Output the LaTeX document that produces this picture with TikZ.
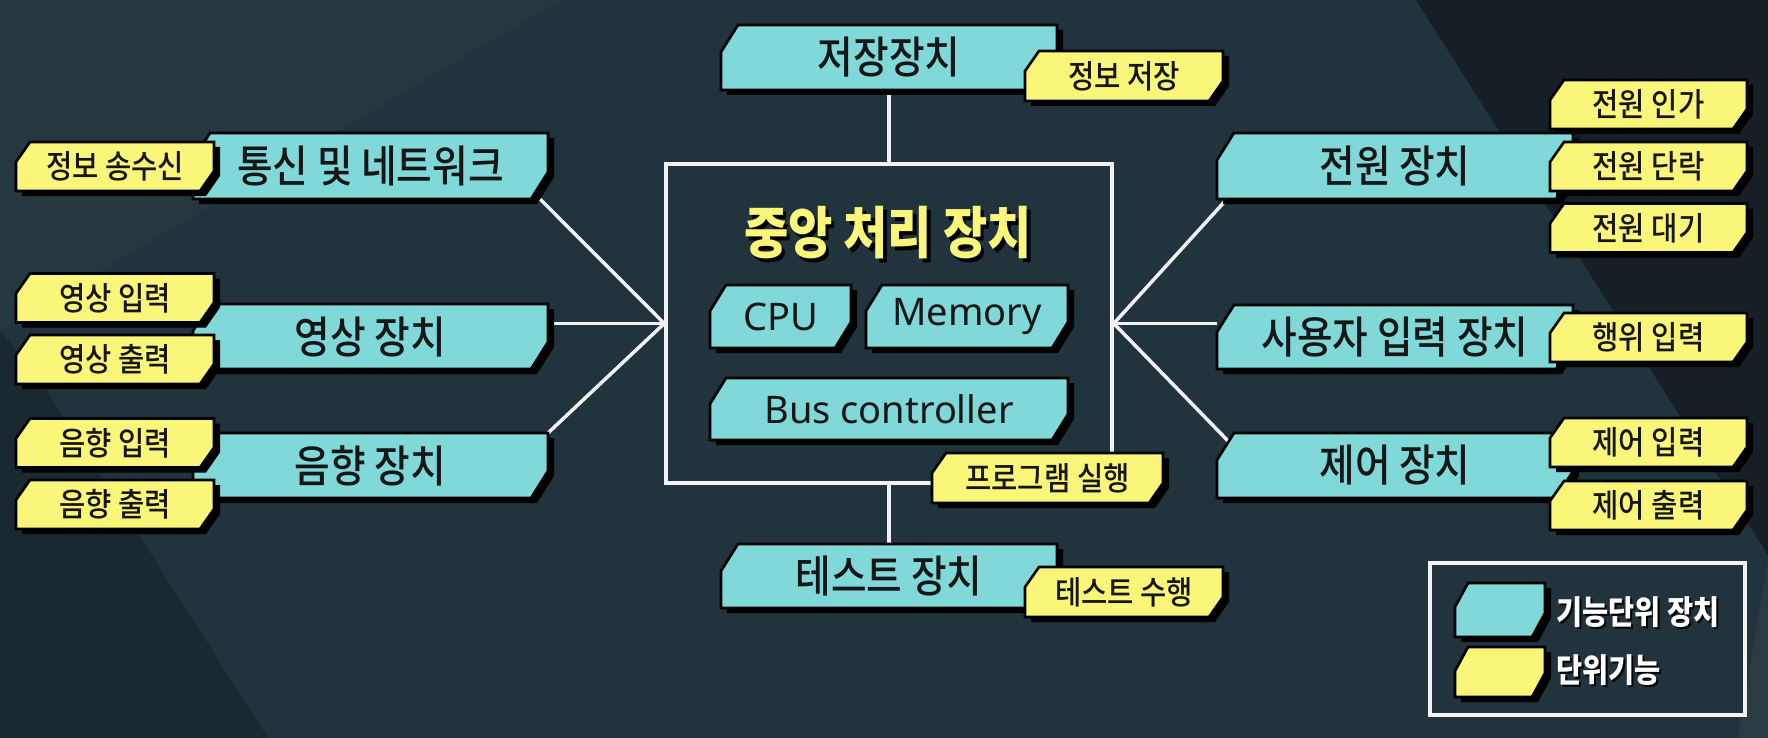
\documentclass[tikz,border=0pt]{standalone}
\usepackage{fontspec}
\usetikzlibrary{shadows}
\newfontfamily\kr[FakeStretch=0.88]{Noto Sans CJK KR Medium}
\newfontfamily\krt[FakeStretch=0.86]{Noto Sans CJK KR}
\newfontfamily\lat{Noto Sans}
\definecolor{bgbase}{HTML}{21333D}
\definecolor{bglight}{HTML}{25373F}
\definecolor{bgdark}{HTML}{1A2930}
\definecolor{bgdarker}{HTML}{151F25}
\definecolor{bgstreak}{HTML}{2B3B42}
\definecolor{cyanc}{HTML}{80D8D8}
\definecolor{yelc}{HTML}{FAF67A}
\definecolor{txtc}{HTML}{161616}
\definecolor{linec}{HTML}{F2F2F2}
\pgfdeclarelayer{bg}
\pgfdeclarelayer{lines}
\pgfsetlayers{bg,lines,main}
\makeatletter
\newdimen\cbxa \newdimen\cbya \newdimen\cbxb \newdimen\cbyb \newdimen\cbxc \newdimen\cbyc
\def\cutw{17pt}\def\cuth{27pt}
\pgfdeclareshape{cutbox}{
  \inheritsavedanchors[from=rectangle]
  \inheritanchorborder[from=rectangle]
  \inheritanchor[from=rectangle]{center}
  \inheritanchor[from=rectangle]{north}
  \inheritanchor[from=rectangle]{south}
  \inheritanchor[from=rectangle]{east}
  \inheritanchor[from=rectangle]{west}
  \inheritanchor[from=rectangle]{north east}
  \inheritanchor[from=rectangle]{north west}
  \inheritanchor[from=rectangle]{south east}
  \inheritanchor[from=rectangle]{south west}
  \inheritanchor[from=rectangle]{base}
  \inheritanchor[from=rectangle]{mid}
  \backgroundpath{%
    \southwest \cbxa=\pgf@x \cbya=\pgf@y
    \northeast \cbxb=\pgf@x \cbyb=\pgf@y
    \pgfpathmoveto{\pgfqpoint{\cbxa}{\cbya}}%
    \cbyc=\cbyb \advance\cbyc by -\cuth
    \pgfpathlineto{\pgfqpoint{\cbxa}{\cbyc}}%
    \cbxc=\cbxa \advance\cbxc by \cutw
    \pgfpathlineto{\pgfqpoint{\cbxc}{\cbyb}}%
    \pgfpathlineto{\pgfqpoint{\cbxb}{\cbyb}}%
    \cbyc=\cbya \advance\cbyc by \cuth
    \pgfpathlineto{\pgfqpoint{\cbxb}{\cbyc}}%
    \cbxc=\cbxb \advance\cbxc by -\cutw
    \pgfpathlineto{\pgfqpoint{\cbxc}{\cbya}}%
    \pgfpathclose
  }
}
\makeatother
\tikzset{
  cutsize/.code 2 args={\def\cutw{#1}\def\cuth{#2}},
  basebox/.style={shape=cutbox, draw=black, line width=2.6pt, inner sep=0pt, outer sep=0pt,
    text=txtc, drop shadow={shadow xshift=6pt, shadow yshift=-5pt, fill=black, opacity=1}},
  unitbox/.style={basebox, fill=cyanc, minimum height=65pt, cutsize={17pt}{27pt},
    font=\kr\fontsize{44}{44}\selectfont},
  latbox/.style={basebox, fill=cyanc, minimum height=63pt, cutsize={16pt}{26pt},
    font=\lat\fontsize{38}{38}\selectfont},
  funcbox/.style={basebox, fill=yelc, minimum width=198pt, minimum height=49pt, cutsize={14pt}{20pt},
    font=\kr\fontsize{32.5}{32.5}\selectfont},
  titlefont/.style={font=\krt\bfseries\fontsize{56}{56}\selectfont},
  legfont/.style={anchor=west, font=\krt\bfseries\fontsize{33}{33}\selectfont},
  conn/.style={draw=linec, line width=3.5pt},
  wframe/.style={draw=linec, line width=3.5pt, inner sep=0pt},
}
\begin{document}
\begin{tikzpicture}[x=1pt, y=-1pt]
\useasboundingbox (0,0) rectangle (1768,738);
\begin{pgfonlayer}{bg}
\fill[bgbase] (0,0) rectangle (1768,738);
\fill[bglight] (0,0) -- (560,0) -- (0,330) -- cycle;
\fill[bgdark] (0,330) -- (45,388) -- (268,738) -- (0,738) -- cycle;
\fill[bgdarker] (1416,0) -- (1768,0) -- (1768,555) -- cycle;
\fill[bgstreak] (1768,560) -- (1768,738) -- (1738,738) -- cycle;
\end{pgfonlayer}

% CPU frame
\node[wframe, minimum width=446pt, minimum height=319pt] (frame) at (889,323.5) {};
\node[titlefont, text=black] (titleshadow) at (891.5,236.5) {중앙 처리 장치};
\node[titlefont, text=yelc] (title) at (888,233) {중앙 처리 장치};
\node[latbox, minimum width=141pt] (cpu) at (780.5,316.5) {CPU};
\node[latbox, minimum width=202pt] (mem) at (967,316.5) {Memory};
\node[latbox, minimum width=358pt, minimum height=62pt] (bus) at (889,409) {Bus controller};
\node[funcbox, minimum width=231pt, minimum height=50pt] (prog) at (1047.5,478) {프로그램 실행};

% top / bottom
\node[unitbox, minimum width=336pt] (storage) at (889,57.5) {저장장치};
\node[funcbox, minimum height=50pt] (storef) at (1124,76) {정보 저장};
\node[unitbox, minimum width=336pt, minimum height=64pt] (test) at (889,576) {테스트 장치};
\node[funcbox, minimum height=50pt] (testf) at (1124,592) {테스트 수행};

% left
\node[unitbox, minimum width=355pt, minimum height=66pt] (comm) at (370.5,166) {통신 및 네트워크};
\node[unitbox, minimum width=355pt] (video) at (370.5,336.5) {영상 장치};
\node[unitbox, minimum width=355pt] (sound) at (370.5,465.5) {음향 장치};
\node[funcbox] (commf) at (115,166.5) {정보 송수신};
\node[funcbox] (vin) at (115,298) {영상 입력};
\node[funcbox] (vout) at (115,359.5) {영상 출력};
\node[funcbox] (sin) at (115,443) {음향 입력};
\node[funcbox] (sout) at (115,504.5) {음향 출력};

% right
\node[unitbox, minimum width=356pt, minimum height=66pt] (power) at (1395,166) {전원 장치};
\node[unitbox, minimum width=356pt, minimum height=64pt] (user) at (1395,337) {사용자 입력 장치};
\node[unitbox, minimum width=356pt] (ctrl) at (1395,465.5) {제어 장치};
\node[funcbox, minimum width=197pt] (pon) at (1648.5,104.5) {전원 인가};
\node[funcbox, minimum width=197pt] (poff) at (1648.5,166.5) {전원 단락};
\node[funcbox, minimum width=197pt] (pwait) at (1648.5,228) {전원 대기};
\node[funcbox, minimum width=197pt] (act) at (1648.5,337.5) {행위 입력};
\node[funcbox, minimum width=197pt] (cin) at (1648.5,442.5) {제어 입력};
\node[funcbox, minimum width=197pt] (cout) at (1648.5,505.5) {제어 출력};

% legend
\node[wframe, minimum width=315pt, minimum height=152pt] (legend) at (1587.5,639) {};
\node[unitbox, minimum width=90pt, minimum height=54pt, cutsize={13pt}{24pt}] (legu) at (1500,610) {};
\node[funcbox, minimum width=90pt, minimum height=50pt, cutsize={13pt}{24pt}] (legf) at (1500,672) {};
\node[legfont, text=black] (legus) at (1555,614) {기능단위 장치};
\node[legfont, text=white] (legut) at (1553,612) {기능단위 장치};
\node[legfont, text=black] (legfs) at (1555,672) {단위기능};
\node[legfont, text=white] (legft) at (1553,670) {단위기능};

% connectors
\begin{pgfonlayer}{lines}
\draw[conn] (storage) -- (frame);
\draw[conn] (frame) -- (test);
\draw[conn] ([xshift=-8pt]comm.south east) -- (frame.west);
\draw[conn] (video.east |- frame.west) -- (frame.west);
\draw[conn] (sound.north east) -- (frame.west);
\draw[conn] ([xshift=10pt]power.south west) -- (frame.east);
\draw[conn] (user.west |- frame.east) -- (frame.east);
\draw[conn] ([xshift=15pt,yshift=-12pt]ctrl.north west) -- (frame.east);
\end{pgfonlayer}
\end{tikzpicture}
\end{document}
